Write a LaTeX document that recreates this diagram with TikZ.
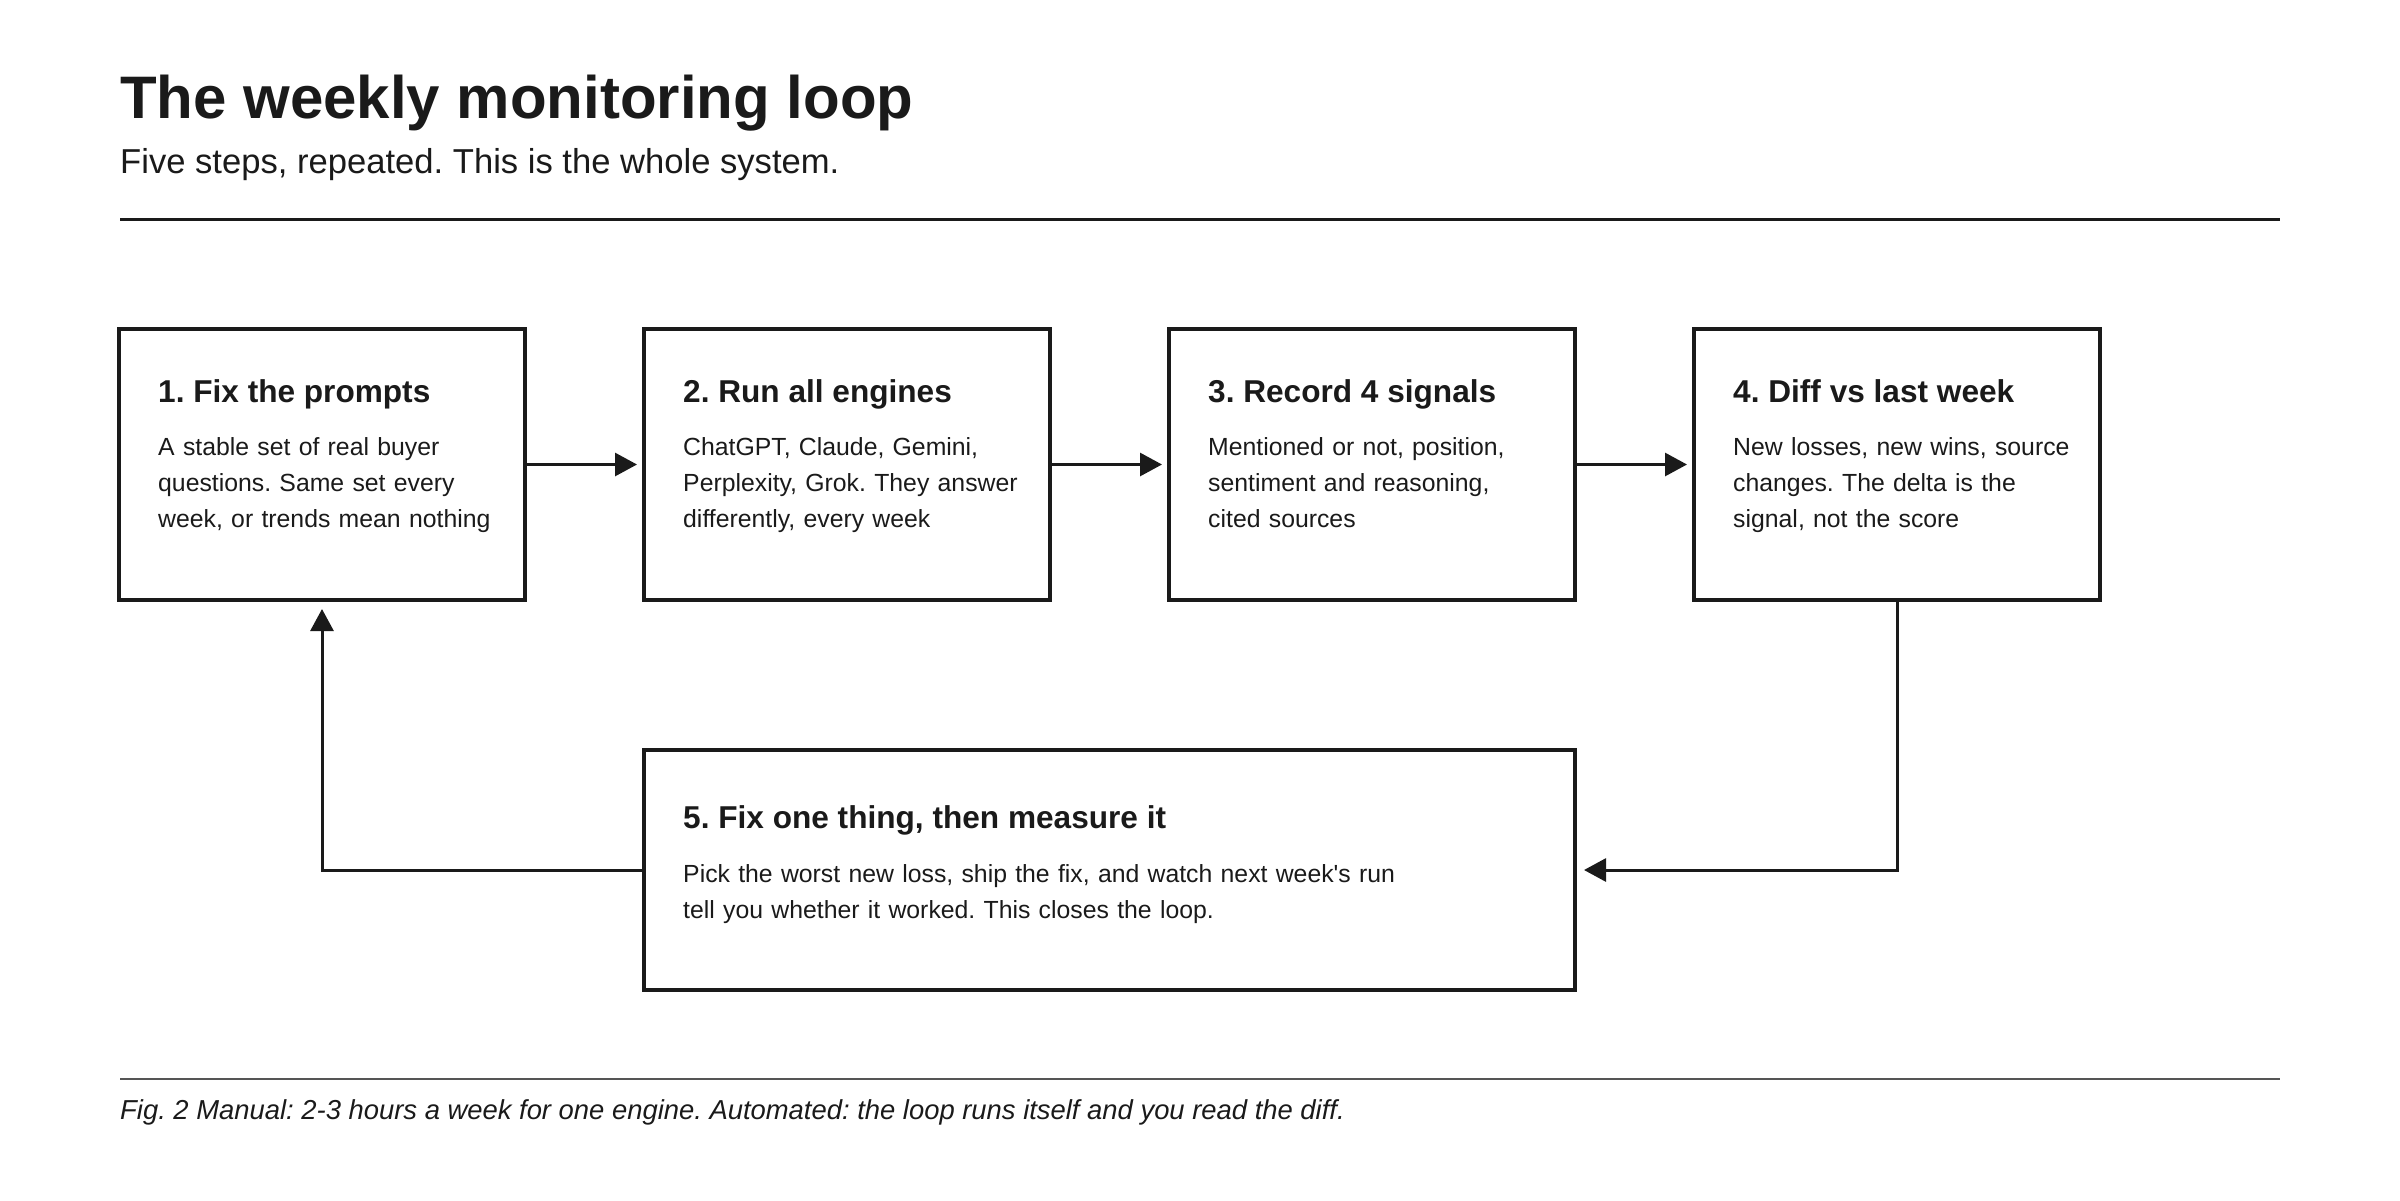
\documentclass[tikz,border=0pt]{standalone}
\usepackage{fontspec}
\setmainfont{Liberation Sans}
\usetikzlibrary{arrows.meta, positioning}
\frenchspacing

\definecolor{ink}{HTML}{1A1A1A}
\definecolor{rulegray}{HTML}{555555}

\begin{document}
\begin{tikzpicture} [x=1pt, y=-1pt, node distance = 119pt, color=ink,
        stepbox/.style = {draw, line width=3.5pt, outer sep=0pt, inner sep=0pt, minimum width=406pt, minimum height=271pt},
        widebox/.style = {stepbox, line width=4.5pt, minimum width=931pt, minimum height=240pt},
        head/.style = {anchor=base west, inner sep=0pt, font=\fontsize{31.6}{38}\selectfont\bfseries},
        body/.style = {anchor=base west, inner sep=0pt, align=left, text width=420pt, font=\fontsize{24.8}{36}\selectfont},
        flow/.style = {line width=3pt, -{Triangle[length=22pt, width=23pt]}}]
        \useasboundingbox (0,0) rectangle (2400,1200);

        \node (title) [anchor=base west, inner sep=0pt, font=\fontsize{60}{72}\selectfont\bfseries] at (120,118) {The weekly monitoring loop};
        \node (sub) [anchor=base west, inner sep=0pt, font=\fontsize{34.6}{42}\selectfont] at (120,173) {Five steps, repeated. This is the whole system.};
        \draw [line width=3pt] (120,219) -- (2280,219);

        \node (s1) [stepbox, anchor=north west] at (119,329) {};
        \node (s2) [stepbox, right = of s1] {};
        \node (s3) [stepbox, right = of s2] {};
        \node (s4) [stepbox, right = of s3] {};
        \node (s5) [widebox, below = 150pt of s2.south west, anchor=north west] {};

        \node (h1) [head] at ([shift={(39,73)}] s1.north west) {1. Fix the prompts};
        \node (b1) [body] at ([shift={(39,126)}] s1.north west) {A stable set of real buyer\\questions. Same set every\\week, or trends mean nothing};
        \node (h2) [head] at ([shift={(39,73)}] s2.north west) {2. Run all engines};
        \node (b2) [body] at ([shift={(39,126)}] s2.north west) {ChatGPT, Claude, Gemini,\\Perplexity, Grok. They answer\\differently, every week};
        \node (h3) [head] at ([shift={(39,73)}] s3.north west) {3. Record 4 signals};
        \node (b3) [body] at ([shift={(39,126)}] s3.north west) {Mentioned or not, position,\\sentiment and reasoning,\\cited sources};
        \node (h4) [head] at ([shift={(39,73)}] s4.north west) {4. Diff vs last week};
        \node (b4) [body] at ([shift={(39,126)}] s4.north west) {New losses, new wins, source\\changes. The delta is the\\signal, not the score};
        \node (h5) [head] at ([shift={(39,78)}] s5.north west) {5. Fix one thing, then measure it};
        \node (b5) [body, text width=880pt] at ([shift={(39,132)}] s5.north west) {Pick the worst new loss, ship the fix, and watch next week\textquotesingle s run\\tell you whether it worked. This closes the loop.};

        \path [flow, shorten >=7pt] (s1) edge (s2) (s2) edge (s3) (s3) edge (s4);
        \draw [flow, shorten >=9pt] (s4.south) |- (s5.east);
        \draw [flow, shorten >=9pt] (s5.west) -| (s1.south);

        \draw [line width=2pt, rulegray] (120,1079) -- (2280,1079);
        \node (cap) [anchor=base west, inner sep=0pt, font=\fontsize{27.4}{33}\selectfont\itshape] at (120,1119) {Fig. 2 Manual: 2-3 hours a week for one engine. Automated: the loop runs itself and you read the diff.};
    \end{tikzpicture}
\end{document}
